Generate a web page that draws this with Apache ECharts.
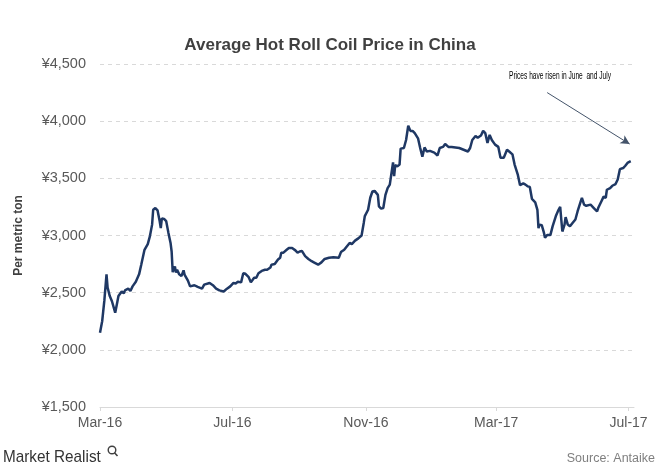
<!DOCTYPE html>
<html><head><meta charset="utf-8">
<script src="https://cdn.jsdelivr.net/npm/echarts@6/dist/echarts.min.js"></script>
<style>html,body{margin:0;padding:0;background:#fff}#c{width:660px;height:471px}</style>
</head><body><div id="c"></div>
<script>
// Days since 2016-03-01 for each observation
const startDate = '2016-03-01';
const dayOffsets = [0,2,4,6,7,9,11,14,16,17,20,22,23,26,28,30,33,36,38,41,42,44,46,48,49,51,53,55,56,57,59,61,63,65,66,67,69,70,71,73,75,77,78,81,83,87,90,94,96,101,104,107,110,114,117,120,123,125,127,130,132,134,137,139,140,142,144,146,149,152,154,157,158,161,164,166,167,169,172,174,177,180,182,184,186,189,192,195,197,201,204,207,211,215,220,222,225,227,230,232,235,236,238,241,243,244,247,249,251,253,256,257,259,261,263,265,267,270,271,272,274,276,277,280,282,284,286,288,290,293,295,297,299,301,304,308,311,313,316,318,321,324,331,335,339,341,343,346,348,351,353,355,357,359,361,362,364,367,369,372,375,377,380,382,385,387,390,392,394,396,398,401,403,404,405,407,409,410,412,415,417,420,422,424,425,426,428,429,431,433,435,438,440,443,444,446,448,452,455,458,459,462,464,466,467,470,472,475,477,479,482,484,486,489];
const prices = [2150,2250,2430,2660,2545,2470,2425,2325,2420,2470,2510,2495,2520,2535,2515,2555,2595,2660,2745,2875,2890,2925,2995,3095,3225,3240,3220,3125,3065,3150,3145,3125,3025,2935,2860,2680,2730,2675,2700,2660,2645,2695,2655,2605,2555,2565,2550,2535,2570,2585,2565,2535,2520,2510,2535,2555,2585,2580,2595,2590,2670,2665,2635,2590,2605,2630,2630,2670,2690,2700,2700,2720,2745,2750,2790,2805,2850,2850,2875,2890,2890,2870,2850,2860,2865,2820,2795,2775,2765,2745,2765,2795,2805,2810,2805,2855,2875,2900,2935,2925,2955,2970,2975,3000,3110,3170,3225,3330,3385,3390,3355,3255,3235,3240,3355,3415,3445,3640,3520,3615,3605,3620,3760,3765,3835,3960,3915,3915,3895,3850,3765,3690,3770,3735,3740,3725,3700,3765,3775,3800,3775,3775,3765,3750,3735,3765,3835,3870,3855,3875,3915,3895,3810,3880,3835,3850,3795,3775,3680,3680,3750,3735,3710,3620,3530,3440,3455,3445,3430,3425,3320,3290,3225,3065,3095,3090,3025,2980,3005,3005,3080,3170,3215,3250,3140,3035,3095,3160,3095,3080,3105,3140,3210,3300,3330,3270,3260,3270,3240,3210,3240,3300,3340,3330,3400,3415,3435,3450,3490,3580,3590,3610,3635,3650];
const tickDates = ['2016-03-01','2016-07-01','2016-11-01','2017-03-01','2017-07-01'];
const tickLabels = ['Mar-16','Jul-16','Nov-16','Mar-17','Jul-17'];
const axisEndDate = '2017-07-06';
const yMin = 1500, yMax = 4500, yStep = 500;
const arrowFrom = ['2017-04-17', 4250];
const arrowTo = ['2017-07-02', 3800];

const DAY = 86400000;
const t0 = Date.parse(startDate);
const toDay = s => Math.round((Date.parse(s) - t0) / DAY);
const seriesData = dayOffsets.map((d, i) => [d, prices[i]]);
const tickDays = tickDates.map(toDay);

const chart = echarts.init(document.getElementById('c'), null, {renderer: 'canvas'});
const FONT = "'Liberation Sans', Arial, sans-serif";
chart.setOption({
  animation: false,
  backgroundColor: '#ffffff',
  textStyle: {fontFamily: FONT},
  title: {
    text: 'Average Hot Roll Coil Price in China',
    left: 'center', top: 32,
    textStyle: {fontFamily: FONT, fontSize: 17, fontWeight: 'bold', color: '#404040'}
  },
  grid: {left: 100, right: 26, top: 64, bottom: 64, containLabel: false},
  xAxis: {
    type: 'value',
    min: 0, max: toDay(axisEndDate),
    axisLine: {show: true, lineStyle: {color: '#d9d9d9', width: 1}},
    axisTick: {show: true, customValues: tickDays, length: 4, lineStyle: {color: '#d9d9d9'}},
    axisLabel: {
      customValues: tickDays, margin: 9,
      fontSize: 14, color: '#595959', fontFamily: FONT,
      formatter: v => { const i = tickDays.indexOf(Math.round(v)); return i >= 0 ? tickLabels[i] : ''; }
    },
    splitLine: {show: false}
  },
  yAxis: {
    type: 'value', min: yMin, max: yMax, interval: yStep,
    name: 'Per metric ton', nameLocation: 'middle', nameGap: 75, nameRotate: 90,
    nameTextStyle: {fontSize: 12, fontWeight: 'bold', color: '#404040', fontFamily: FONT},
    axisLine: {show: false}, axisTick: {show: false},
    axisLabel: {margin: 14, fontSize: 14.5, color: '#595959', fontFamily: FONT,
      formatter: v => '¥' + v.toLocaleString('en-US')},
    splitLine: {show: true, lineStyle: {color: '#d9d9d9', type: [4, 4], width: 1}}
  },
  series: [{
    type: 'line', data: seriesData, showSymbol: false, symbol: 'none',
    lineStyle: {color: '#1f3864', width: 2.5}, itemStyle: {color: '#1f3864'},
    markLine: {
      silent: true, symbol: ['none', 'arrow'], symbolSize: [7, 9],
      label: {show: false},
      lineStyle: {color: '#44546a', width: 1, type: 'solid'},
      data: [[{coord: [toDay(arrowFrom[0]), arrowFrom[1]]}, {coord: [toDay(arrowTo[0]), arrowTo[1]]}]]
    }
  }],
  graphic: [
    {type: 'text', x: 509, y: 70, scaleX: 0.6, style: {text: 'Prices have risen in June  and July', fontSize: 11, fontFamily: FONT, fill: '#000000'}},
    {type: 'text', x: 3, y: 449, scaleX: 0.9, style: {text: 'Market Realist', fontSize: 17, fontFamily: FONT, fill: '#333333'}},
    {type: 'circle', shape: {cx: 112, cy: 450, r: 3.8}, style: {fill: 'none', stroke: '#404040', lineWidth: 1.4}},
    {type: 'line', shape: {x1: 114.5, y1: 452.8, x2: 117.5, y2: 456}, style: {stroke: '#404040', lineWidth: 1.6}},
    {type: 'text', right: 5, top: 452, style: {text: 'Source: Antaike', fontSize: 12.5, fontFamily: FONT, fill: '#7f7f7f'}}
  ]
});
</script></body></html>
